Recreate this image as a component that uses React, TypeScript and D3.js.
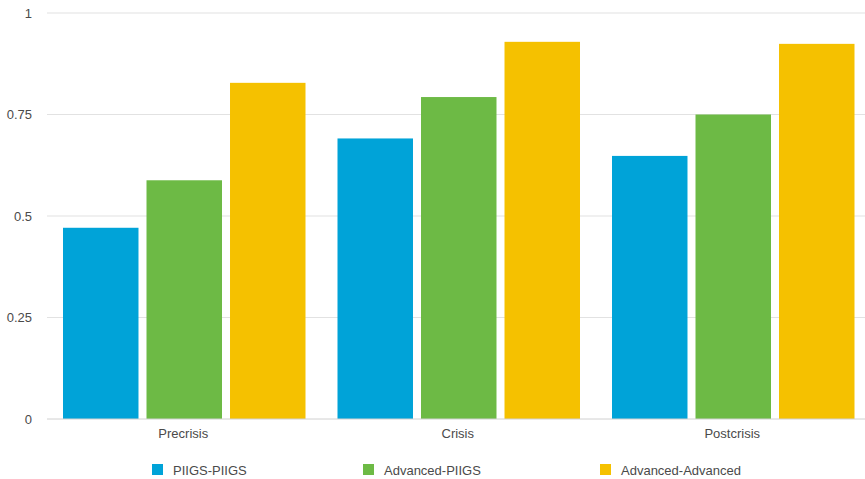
import React from "react";
import * as d3 from "d3";

const categories = ["Precrisis", "Crisis", "Postcrisis"];
const seriesNames = ["PIIGS-PIIGS", "Advanced-PIIGS", "Advanced-Advanced"];
const piigsPiigs = [0.471, 0.691, 0.648];
const advancedPiigs = [0.588, 0.793, 0.75];
const advancedAdvanced = [0.828, 0.929, 0.924];
const yTicks = [0, 0.25, 0.5, 0.75, 1];
const yTickLabels = ["0", "0.25", "0.5", "0.75", "1"];
const colors = ["#00A3D8", "#6DBA45", "#F5C100"];

const W = 865;
const H = 479;
const FONT = "'Liberation Sans', Arial, Helvetica, sans-serif";

export default function App() {
  const series = [piigsPiigs, advancedPiigs, advancedAdvanced];
  const left = 47;
  const top = 13;
  const bottom = 419;

  const x = d3.scaleBand<string>().domain(categories).range([left, left + 3 * 274.5]).padding(0);
  const xInner = d3
    .scaleBand<string>()
    .domain(seriesNames)
    .range([16, x.bandwidth() - 16])
    .paddingInner(0.096);
  const y = d3.scaleLinear().domain([0, 1]).range([bottom, top]);

  const legendX = [152, 363, 600];

  return (
    <div style={{ position: "absolute", left: 0, top: 0 }}>
      <svg width={W} height={H} style={{ display: "block", background: "#fff" }}>
        {yTicks.map((t, i) => (
          <g key={t}>
            {t !== 0 && (
              <line x1={left} x2={W} y1={y(t)} y2={y(t)} stroke="#e2e2e2" strokeWidth={1.2} />
            )}
            <text
              x={32}
              y={y(t)}
              dy="0.35em"
              textAnchor="end"
              fontFamily={FONT}
              fontSize={13}
              fill="#4a4a4a"
            >
              {yTickLabels[i]}
            </text>
          </g>
        ))}
        {categories.map((c, ci) => (
          <g key={c} transform={`translate(${x(c)},0)`}>
            {series.map((s, si) => (
              <rect
                key={si}
                x={xInner(seriesNames[si])}
                y={y(s[ci])}
                width={xInner.bandwidth()}
                height={y(0) - y(s[ci])}
                fill={colors[si]}
              />
            ))}
            <text
              x={x.bandwidth() / 2 - 1}
              y={438}
              textAnchor="middle"
              fontFamily={FONT}
              fontSize={13}
              fill="#4a4a4a"
            >
              {c}
            </text>
          </g>
        ))}
        <line x1={left} x2={W} y1={bottom} y2={bottom} stroke="#d0d0d0" strokeWidth={1} />
        {seriesNames.map((n, i) => (
          <g key={n} transform={`translate(${legendX[i]},0)`}>
            <rect x={0} y={464} width={11} height={11} fill={colors[i]} />
            <text x={21} y={474.5} fontFamily={FONT} fontSize={13} fill="#4a4a4a">
              {n}
            </text>
          </g>
        ))}
      </svg>
    </div>
  );
}
